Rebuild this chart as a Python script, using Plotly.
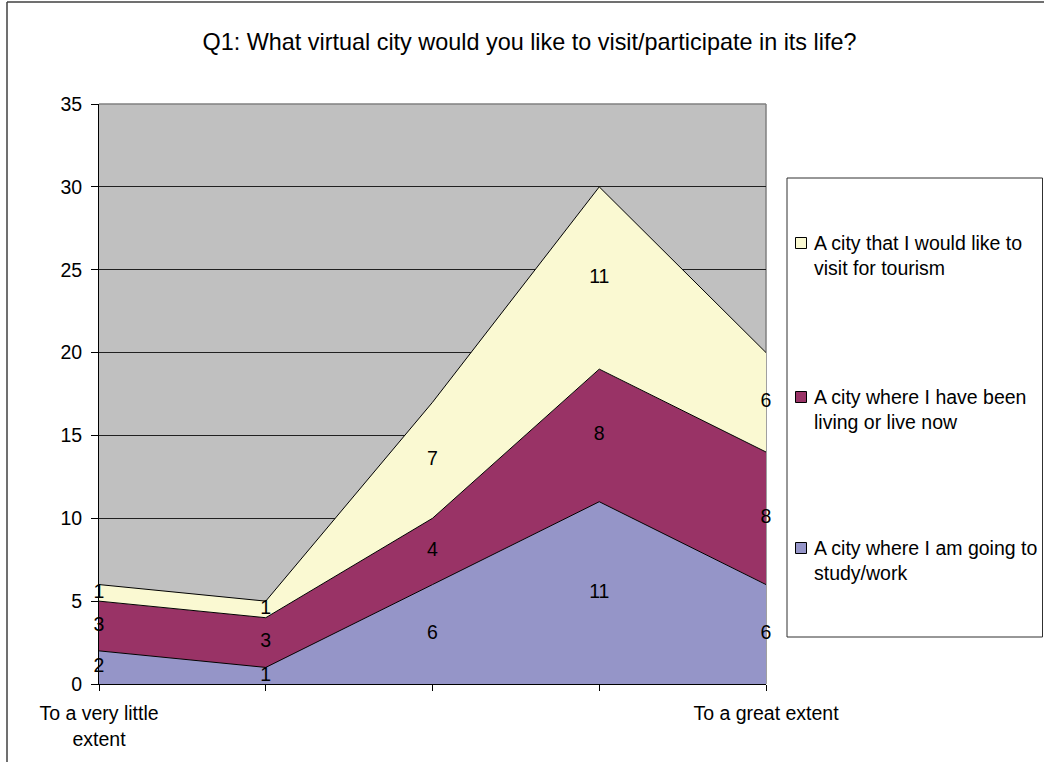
import plotly.graph_objects as go

# ---------------- data ----------------
categories = ["To a very little<br>extent", "", "", "", "To a great extent"]
series_names = [
    "A city where I am going to<br>study/work",
    "A city where I have been<br>living or live now",
    "A city that I would like to<br>visit for tourism",
]
study_work = [2, 1, 6, 11, 6]
living_now = [3, 3, 4, 8, 8]
tourism = [1, 1, 7, 11, 6]
y_ticks = [0, 5, 10, 15, 20, 25, 30, 35]

series_values = [study_work, living_now, tourism]
colors = ["#9595C8", "#993366", "#FAF9D2"]

# ---------------- geometry helpers (pixel -> paper) ----------------
W, H = 1044, 762
L, R, T, B = 99, 766, 104, 684


def px(x):
    return (x - L) / (R - L)


def py(y):
    return (B - y) / (B - T)


FONT = "Liberation Sans, Arial, sans-serif"
xs = list(range(len(categories)))

fig = go.Figure()

# stacked areas
for name, vals, col in zip(series_names, series_values, colors):
    fig.add_trace(go.Scatter(
        x=xs, y=vals, name=name.replace("<br>", " "), stackgroup="one",
        mode="lines", line=dict(color="black", width=1),
        fillcolor=col, showlegend=False, hoverinfo="x+y+name",
    ))

# data labels in the middle of each band
base = [0] * len(xs)
for vals in series_values:
    mids = [b + v / 2 for b, v in zip(base, vals)]
    fig.add_trace(go.Scatter(
        x=xs, y=mids, mode="text", text=[str(v) for v in vals],
        textposition="middle center",
        textfont=dict(family=FONT, size=19.5, color="black"),
        showlegend=False, cliponaxis=False, hoverinfo="skip",
    ))
    base = [b + v for b, v in zip(base, vals)]

shapes = []
# plot area border (top & right, gray)
shapes.append(dict(type="line", xref="paper", yref="paper", x0=0, x1=1, y0=1, y1=1,
                   line=dict(color="#808080", width=1.5), layer="above"))
shapes.append(dict(type="line", xref="paper", yref="paper", x0=1, x1=1, y0=0, y1=1,
                   line=dict(color="#808080", width=1.5), layer="below"))
# outer chart frame (top & left)
shapes.append(dict(type="line", xref="paper", yref="paper", x0=px(7), x1=px(1044),
                   y0=py(2), y1=py(2), line=dict(color="#404040", width=1.5)))
shapes.append(dict(type="line", xref="paper", yref="paper", x0=px(7), x1=px(7),
                   y0=py(2), y1=py(762), line=dict(color="#404040", width=1.5)))
# legend box
shapes.append(dict(type="rect", xref="paper", yref="paper", x0=px(787), x1=px(1042.5),
                   y0=py(637), y1=py(178), line=dict(color="#303030", width=1),
                   fillcolor="white"))

annotations = []
legend_y = [548, 397, 243]
for name, col, ly in zip(series_names, colors, legend_y):
    shapes.append(dict(type="rect", xref="paper", yref="paper",
                       x0=px(795.5), x1=px(806.5), y0=py(ly + 5.5), y1=py(ly - 5.5),
                       fillcolor=col, line=dict(color="black", width=1)))
    annotations.append(dict(xref="paper", yref="paper", x=px(812), y=py(ly + 12),
                            text=name, showarrow=False, xanchor="left", yanchor="middle",
                            align="left", font=dict(family=FONT, size=19.5, color="black")))

fig.update_layout(
    width=W, height=H,
    margin=dict(l=L, r=W - R, t=T, b=H - B, pad=0),
    paper_bgcolor="white", plot_bgcolor="#C0C0C0",
    title=dict(text="Q1: What virtual city would you like to visit/participate in its life?",
               x=529.5 / W, xanchor="center", y=1 - 42 / H, yanchor="middle",
               xref="container", yref="container",
               font=dict(family=FONT, size=23.4, color="black")),
    xaxis=dict(range=[0, 4], tickvals=xs, ticktext=categories, showgrid=False,
               zeroline=False, showline=True, linecolor="black", linewidth=1,
               ticks="outside", ticklen=6, tickcolor="black",
               tickfont=dict(family=FONT, size=19.5, color="black"),
               ticklabelstandoff=6),
    yaxis=dict(range=[0, 35], tickvals=y_ticks, showgrid=True, gridcolor="#202020",
               gridwidth=1, zeroline=False, showline=True, linecolor="black",
               linewidth=1, ticks="outside", ticklen=7, tickcolor="black",
               tickfont=dict(family=FONT, size=19.5, color="black"),
               ticklabelstandoff=5),
    shapes=shapes,
    annotations=annotations,
    showlegend=False,
)

fig.write_html("out.html")
